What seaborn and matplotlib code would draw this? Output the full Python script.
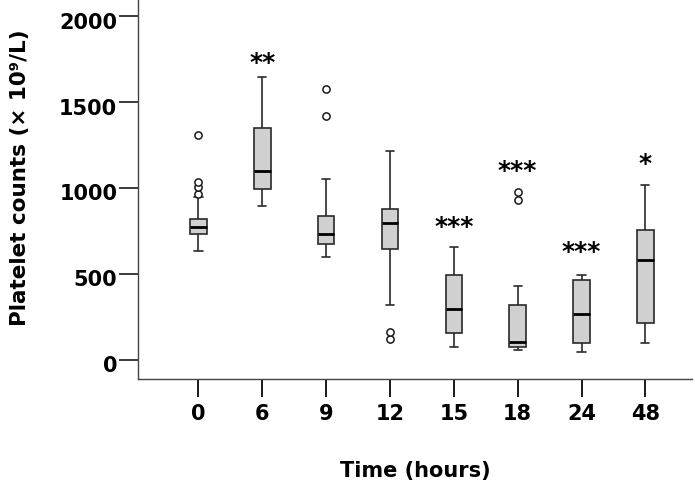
import matplotlib
matplotlib.use("Agg")
import matplotlib.pyplot as plt
import matplotlib.transforms as mtrans
import seaborn as sns
import pandas as pd

# ---- data ----
time_labels = ["0", "6", "9", "12", "15", "18", "24", "48"]

counts_0 = [635, 680, 700, 715, 725, 731, 745, 755, 762, 770, 775,
            785, 795, 805, 812, 822, 950, 969, 1008, 1037, 1310]
counts_6 = [897, 930, 965, 998, 1030, 1065, 1099, 1160, 1250, 1349, 1450, 1550, 1647]
counts_9 = [597, 630, 655, 676, 695, 715, 736, 770, 805, 837, 1056, 1419, 1578]
counts_12 = [120, 161, 318, 647, 700, 760, 798, 820, 850, 878, 1000, 1100, 1217]
counts_15 = [77, 110, 135, 159, 200, 250, 297, 350, 420, 496, 560, 610, 657]
counts_18 = [58, 65, 72, 77, 85, 95, 103, 150, 230, 318, 430, 934, 979]
counts_24 = [45, 65, 80, 97, 150, 210, 269, 330, 400, 465, 475, 485, 494]
counts_48 = [97, 130, 170, 217, 350, 470, 580, 640, 700, 758, 850, 950, 1021]

all_counts = [counts_0, counts_6, counts_9, counts_12,
              counts_15, counts_18, counts_24, counts_48]

sig_marks = ["", "**", "", "", "***", "***", "***", "*"]
sig_y = [None, 1752, None, None, 797, 1120, 650, 1163]

y_ticks = [0, 500, 1000, 1500, 2000]

rows = []
for t, vals in zip(time_labels, all_counts):
    for v in vals:
        rows.append({"Time": t, "Count": v})
df = pd.DataFrame(rows)

# ---- plot ----
sns.set_theme(style="white")
plt.rcParams["font.family"] = ["DejaVu Sans"]
plt.rcParams["text.color"] = "black"
plt.rcParams["axes.labelcolor"] = "black"
plt.rcParams["xtick.color"] = "black"
plt.rcParams["ytick.color"] = "black"

fig = plt.figure(figsize=(6.95, 4.9), dpi=100)
ax = fig.add_axes([0.1986, 0.2265, 0.797, 0.7735])

sns.boxplot(
    data=df, x="Time", y="Count", order=time_labels, ax=ax,
    color="#d0d0d0", saturation=1, width=0.26, linecolor="#2a2a2a",
    linewidth=1.2, fliersize=5.2,
    medianprops={"color": "black", "linewidth": 2.0},
    flierprops={"marker": "o", "markerfacecolor": "white",
                "markeredgecolor": "#1a1a1a", "markeredgewidth": 1.1},
)

for i, (s, yv) in enumerate(zip(sig_marks, sig_y)):
    if s:
        ax.annotate(s, xy=(i, yv), xytext=(0, -7.5), textcoords="offset points",
                    ha="center", va="baseline", fontsize=18, fontweight="bold",
                    color="black")

ax.set_xlim(-0.947, 7.73)
ax.set_ylim(-110.6, 2096)
ax.set_yticks(y_ticks)
ax.set_yticklabels([str(v) for v in y_ticks])

for sp in ["top", "right"]:
    ax.spines[sp].set_visible(False)
for sp in ["left", "bottom"]:
    ax.spines[sp].set_color("#444444")
    ax.spines[sp].set_linewidth(1.0)

ax.tick_params(axis="x", direction="out", length=13, width=1.4, color="#1a1a1a",
               pad=5, labelsize=15, labelcolor="black", bottom=True)
ax.tick_params(axis="y", direction="out", length=14, width=1.2, color="#1a1a1a",
               pad=1, labelsize=15, labelcolor="black", left=True)
for lab in ax.get_xticklabels():
    lab.set_fontweight("bold")
shift = mtrans.ScaledTranslation(0, -3 / 72, fig.dpi_scale_trans)
for tick in ax.yaxis.get_major_ticks():
    tick.label1.set_fontweight("bold")
    tick.label1.set_transform(tick.label1.get_transform() + shift)

ax.set_xlabel("Time (hours)", fontsize=15, fontweight="bold", color="black")
ax.set_ylabel("Platelet counts (× 10⁹/L)", fontsize=15.5, fontweight="bold",
              color="black")
ax.xaxis.set_label_coords(0.5, -0.216)
ax.yaxis.set_label_coords(-0.195, 0.53)

fig.savefig("out.png", dpi=100)
